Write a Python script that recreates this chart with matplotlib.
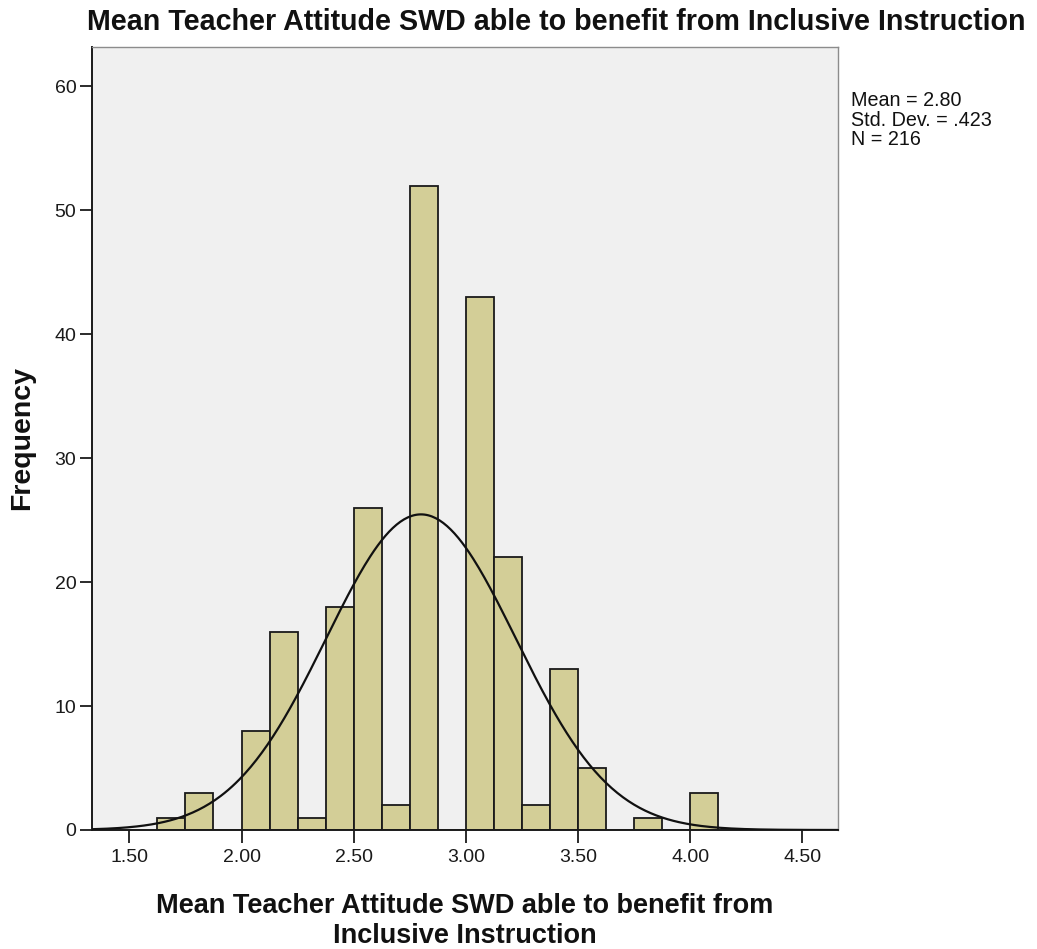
import numpy as np
import matplotlib.pyplot as plt

plt.rcParams['font.family'] = ['Liberation Sans', 'DejaVu Sans']

# histogram bins (width .125) and counts per bin
bin_edges = [1.625, 1.75, 1.875, 2.0, 2.125, 2.25, 2.375, 2.5, 2.625, 2.75,
             2.875, 3.0, 3.125, 3.25, 3.375, 3.5, 3.625, 3.75, 3.875, 4.0, 4.125]
counts = [1, 3, 0, 8, 16, 1, 18, 26, 2, 52,
          0, 43, 22, 2, 13, 5, 0, 1, 0, 3]

mean_val = 2.80
std_dev = 0.423
n_obs = 216

x_ticks = [1.50, 2.00, 2.50, 3.00, 3.50, 4.00, 4.50]
y_ticks = [0, 10, 20, 30, 40, 50, 60]

title = 'Mean Teacher Attitude SWD able to benefit from Inclusive Instruction'
x_label = 'Mean Teacher Attitude SWD able to benefit from\nInclusive Instruction'

fig = plt.figure(figsize=(10.37, 9.49), dpi=100)
ax = fig.add_axes([0.0884, 0.1254, 0.7197, 0.8254])
ax.set_facecolor('#F0F0F0')

lefts = np.array(bin_edges[:-1])
widths = np.diff(bin_edges)
ax.bar(lefts, counts, width=widths, align='edge', color='#D3CE97',
       edgecolor='#1A1A1A', linewidth=1.3, zorder=2)

# fitted normal curve scaled to counts
xmin, xmax = 1.332, 4.659
xs = np.linspace(xmin, xmax, 400)
bw = bin_edges[1] - bin_edges[0]
pdf = np.exp(-0.5 * ((xs - mean_val) / std_dev) ** 2) / (std_dev * np.sqrt(2 * np.pi))
ax.plot(xs, pdf * n_obs * bw, color='#111111', linewidth=1.6, zorder=3)

ax.set_xlim(xmin, xmax)
ax.set_ylim(0, 63.2)
ax.set_xticks(x_ticks)
ax.set_xticklabels(['%.2f' % t for t in x_ticks])
ax.set_yticks(y_ticks)
ax.tick_params(axis='both', direction='out', length=9, width=1.3,
               labelsize=14, colors='#1A1A1A')
ax.tick_params(axis='x', pad=5)
ax.tick_params(axis='y', pad=2)

for side in ['left', 'bottom']:
    ax.spines[side].set_color('#1A1A1A')
    ax.spines[side].set_linewidth(1.4)
for side in ['top', 'right']:
    ax.spines[side].set_color('#8C8C8C')
    ax.spines[side].set_linewidth(1.0)

fig.text(556 / 1037, 1 - 22 / 949, title, ha='center', va='center',
         fontsize=20.6, fontweight='bold', color='#111111')
fig.text(465 / 1037, 1 - 921 / 949, x_label, ha='center', va='center',
         fontsize=19.5, fontweight='bold', color='#111111', linespacing=1.22)
fig.text(22 / 1037, 1 - 438 / 949, 'Frequency', ha='center', va='center',
         rotation=90, fontsize=20.5, fontweight='bold', color='#111111')

stats = 'Mean = %.2f\nStd. Dev. = %s\nN = %d' % (mean_val, ('%.3f' % std_dev)[1:], n_obs)
fig.text(851 / 1037, 1 - 91 / 949, stats, ha='left', va='top',
         fontsize=14.2, color='#111111', linespacing=1.05)

fig.savefig('out.png', dpi=100, facecolor='white')
